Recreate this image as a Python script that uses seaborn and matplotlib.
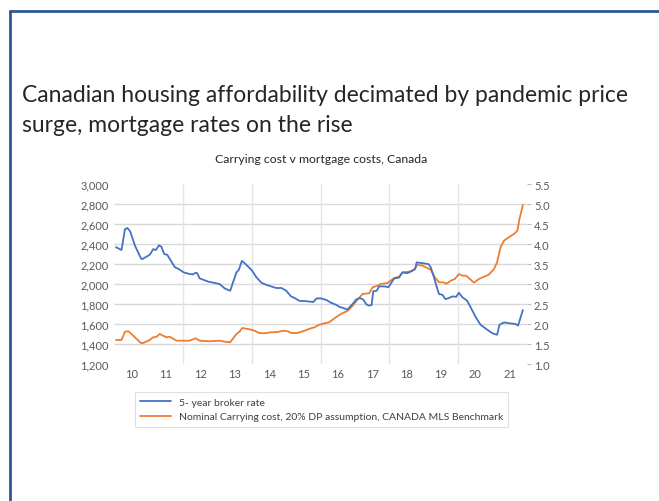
import matplotlib
matplotlib.use("Agg")
import matplotlib.pyplot as plt
import seaborn as sns
import pandas as pd
from matplotlib.lines import Line2D

# ---- data (x = year, e.g. 10.5 = mid-2010) ----
rate_x = [10.05, 10.21, 10.31, 10.38, 10.46, 10.60, 10.77, 10.81, 11.03, 11.13, 11.21, 11.30,
          11.37, 11.45, 11.54, 11.76, 11.86, 12.02, 12.19, 12.28, 12.37, 12.41, 12.48, 12.73,
          13.06, 13.21, 13.37, 13.55, 13.62, 13.71, 13.84, 14.01, 14.13, 14.28, 14.42, 14.56,
          14.71, 14.86, 15.00, 15.14, 15.24, 15.38, 15.58, 15.79, 15.88, 16.01, 16.17, 16.30,
          16.45, 16.54, 16.69, 16.78, 16.93, 17.03, 17.14, 17.24, 17.32, 17.39, 17.48, 17.53,
          17.63, 17.70, 17.85, 17.97, 18.14, 18.28, 18.38, 18.52, 18.67, 18.75, 18.79, 18.96,
          19.13, 19.20, 19.28, 19.35, 19.44, 19.54, 19.63, 19.73, 19.83, 19.94, 20.02, 20.12,
          20.26, 20.36, 20.51, 20.65, 20.84, 20.99, 21.13, 21.20, 21.33, 21.47, 21.67, 21.74, 21.88]
rate_vals = [3.92, 3.85, 4.37, 4.40, 4.32, 3.96, 3.65, 3.62, 3.73, 3.87, 3.85, 3.97,
             3.93, 3.75, 3.73, 3.42, 3.38, 3.29, 3.25, 3.24, 3.28, 3.27, 3.14, 3.06,
             3.00, 2.89, 2.83, 3.29, 3.35, 3.58, 3.48, 3.33, 3.17, 3.03, 2.98, 2.94,
             2.90, 2.90, 2.83, 2.69, 2.65, 2.58, 2.57, 2.55, 2.64, 2.64, 2.60, 2.53,
             2.48, 2.43, 2.39, 2.36, 2.50, 2.61, 2.65, 2.61, 2.50, 2.46, 2.47, 2.82,
             2.83, 2.94, 2.94, 2.92, 3.14, 3.16, 3.29, 3.27, 3.33, 3.38, 3.54, 3.52,
             3.50, 3.42, 3.21, 3.00, 2.75, 2.73, 2.62, 2.65, 2.69, 2.68, 2.78, 2.67,
             2.58, 2.42, 2.17, 1.98, 1.86, 1.77, 1.73, 1.98, 2.04, 2.02, 2.00, 1.96, 2.35]

cost_x = [10.05, 10.21, 10.31, 10.41, 10.50, 10.65, 10.77, 10.84, 11.03, 11.13, 11.23, 11.32,
          11.42, 11.52, 11.61, 11.81, 12.19, 12.37, 12.48, 12.77, 13.06, 13.21, 13.37, 13.55,
          13.64, 13.72, 13.88, 13.98, 14.07, 14.22, 14.36, 14.56, 14.75, 14.90, 15.05, 15.14,
          15.33, 15.53, 15.72, 15.82, 15.96, 16.11, 16.25, 16.40, 16.59, 16.79, 16.93, 17.07,
          17.22, 17.41, 17.51, 17.65, 17.75, 17.94, 18.14, 18.28, 18.38, 18.57, 18.72, 18.81,
          18.96, 19.10, 19.20, 19.32, 19.44, 19.56, 19.66, 19.78, 19.90, 20.02, 20.12, 20.23,
          20.34, 20.46, 20.60, 20.75, 20.89, 21.04, 21.13, 21.23, 21.33, 21.47, 21.62, 21.72,
          21.78, 21.88]
cost_vals = [1440, 1440, 1523, 1527, 1500, 1450, 1410, 1410, 1440, 1467, 1473, 1500,
             1483, 1467, 1473, 1433, 1433, 1457, 1433, 1427, 1433, 1423, 1417, 1500,
             1523, 1560, 1550, 1543, 1533, 1510, 1507, 1517, 1520, 1533, 1527, 1510,
             1510, 1533, 1557, 1567, 1593, 1607, 1617, 1657, 1700, 1733, 1783, 1843,
             1900, 1907, 1967, 1983, 2000, 2010, 2060, 2073, 2117, 2123, 2143, 2193,
             2183, 2160, 2143, 2067, 2017, 2017, 2003, 2033, 2050, 2100, 2083, 2083,
             2050, 2013, 2050, 2073, 2093, 2150, 2217, 2367, 2433, 2467, 2500, 2533,
             2650, 2790]

year_labels = ["10", "11", "12", "13", "14", "15", "16", "17", "18", "19", "20", "21"]
left_ticks = [1200, 1400, 1600, 1800, 2000, 2200, 2400, 2600, 2800, 3000]
right_ticks = [1.0, 1.5, 2.0, 2.5, 3.0, 3.5, 4.0, 4.5, 5.0, 5.5]

series_rate = "5- year broker rate"
series_cost = "Nominal Carrying cost, 20% DP assumption, CANADA MLS Benchmark"
title_line1 = "Canadian housing affordability decimated by pandemic price"
title_line2 = "surge, mortgage rates on the rise"
chart_title = "Carrying cost v mortgage costs, Canada"

BLUE = "#4472C4"
ORANGE = "#ED7D31"
GRID = "#D9D9D9"
TXT = "#595959"

sns.set_theme(style="white")
plt.rcParams['font.family'] = ['Lato', 'DejaVu Sans']

fig = plt.figure(figsize=(6.59, 5.02), dpi=100)
fig.patch.set_facecolor("white")

# slide border
fig.add_artist(Line2D([10/659, 10/659], [0, 1 - 12/502], transform=fig.transFigure,
                      color="#2F5597", lw=2.0))
fig.add_artist(Line2D([10/659, 1], [1 - 12/502, 1 - 12/502], transform=fig.transFigure,
                      color="#2F5597", lw=2.0))

fig.text(22/659, 1 - 102/502, title_line1, ha="left", va="baseline", fontsize=16.5,
         color="#262626")
fig.text(22/659, 1 - 132/502, title_line2, ha="left", va="baseline", fontsize=16.5,
         color="#262626")
fig.text(321/659, 1 - 160/502, chart_title, ha="center", va="center", fontsize=8.8,
         color="#262626")

ax = fig.add_axes([114.3/659, 1 - 365/502, (527 - 114.3)/659, 180/502])
ax2 = ax.twinx()

df_cost = pd.DataFrame({"x": cost_x, "y": cost_vals})
df_rate = pd.DataFrame({"x": rate_x, "y": rate_vals})
sns.lineplot(data=df_cost, x="x", y="y", ax=ax, color=ORANGE, lw=1.3, legend=False)
sns.lineplot(data=df_rate, x="x", y="y", ax=ax2, color=BLUE, lw=1.3, legend=False)

ax.set_xlim(10, 22)
ax.set_ylim(1200, 3000)
ax2.set_ylim(1.0, 5.5)

for g in [1400, 1600, 1800, 2000, 2200, 2400, 2600, 2800]:
    ax.axhline(g, color=GRID, lw=1.0, zorder=0)
for v in [12, 14, 16, 18, 20]:
    ax.axvline(v, color="#E4E4E4", lw=1.0, zorder=0)

ax.set_yticks(left_ticks)
ax.set_yticklabels([f"{t:,}" for t in left_ticks], fontsize=8, color=TXT)
ax2.set_yticks(right_ticks)
ax2.set_yticklabels([f"{t:.1f}" for t in right_ticks], fontsize=8, color=TXT)
ax.set_xticks([y + 0.5 for y in range(10, 22)])
ax.set_xticklabels(year_labels, fontsize=8, color=TXT)

ax.tick_params(axis="y", length=0, pad=4)
ax.tick_params(axis="x", length=0, pad=3)
ax2.tick_params(axis="y", length=3, width=0.8, color="#BFBFBF", pad=2)
ax.set_xlabel("")
ax.set_ylabel("")
ax2.set_ylabel("")
for a in (ax, ax2):
    for s in a.spines.values():
        s.set_visible(False)
ax.set_zorder(ax2.get_zorder() - 1)
ax.patch.set_visible(False)

handles = [Line2D([], [], color=BLUE, lw=1.3), Line2D([], [], color=ORANGE, lw=1.3)]
leg = fig.legend(handles, [series_rate, series_cost], loc="center",
                 bbox_to_anchor=(321.5/659, 1 - 410.5/502), fontsize=7.5,
                 frameon=True, fancybox=False, edgecolor=GRID, handlelength=3.0,
                 handletextpad=0.7, borderpad=0.5, labelspacing=0.5, labelcolor="#404040")
leg.get_frame().set_linewidth(0.8)

fig.savefig("out.png", dpi=100, facecolor="white")
